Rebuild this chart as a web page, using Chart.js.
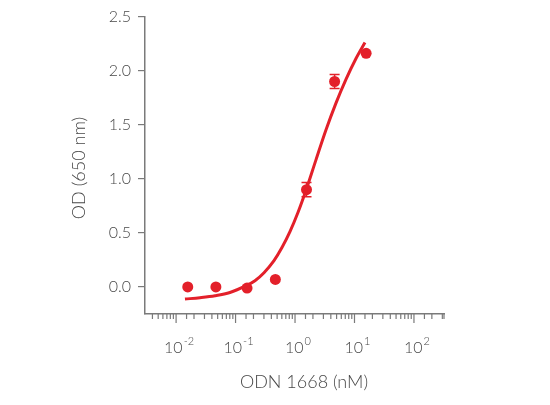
<!DOCTYPE html>
<html>
<head>
<meta charset="utf-8">
<script src="https://cdn.jsdelivr.net/npm/chart.js@4/dist/chart.umd.min.js"></script>
<style>
  html, body { margin: 0; padding: 0; background: #fff; }
  #wrap { width: 550px; height: 405px; }
</style>
</head>
<body>
<div id="wrap"><canvas id="myChart" width="550" height="405"></canvas></div>
<script>
// measured points (ODN 1668 in nM, OD at 650 nm)
const doseNM = [0.0157, 0.0467, 0.156, 0.467, 1.56, 4.63, 15.7];
const odMean = [0.0, 0.0, -0.01, 0.07, 0.90, 1.90, 2.16];
const odErr = [0, 0, 0, 0, 0.065, 0.065, 0];

// fitted curve
const fitX = [0.0141, 0.0252, 0.0451, 0.0805, 0.150, 0.212, 0.301, 0.443, 0.603, 0.822, 1.12, 1.53, 2.25, 3.31, 4.88, 7.19, 10.6, 15.0];
const fitY = [-0.112, -0.099, -0.081, -0.051, 0.012, 0.058, 0.132, 0.243, 0.364, 0.511, 0.688, 0.894, 1.175, 1.451, 1.700, 1.920, 2.113, 2.261];

const yTicks = [0, 0.5, 1, 1.5, 2, 2.5];
const xDecades = [-2, -1, 0, 1, 2];

const red = '#e3202a';
const axisGrey = '#7a7a7a';
const textGrey = '#484848';
const fontFam = 'Lato, "Open Sans", sans-serif';

function supExp(n) {
  return n < 0 ? '-' + Math.abs(n) : String(n);
}

// error bars, log-axis tick marks, decade labels and axis titles
const extras = {
  id: 'extras',
  afterDatasetsDraw(chart) {
    const ctx = chart.ctx;
    const xs = chart.scales.x, ys = chart.scales.y;
    ctx.save();
    ctx.strokeStyle = red;
    ctx.lineWidth = 1.5;
    doseNM.forEach((d, i) => {
      if (!odErr[i]) return;
      const px = xs.getPixelForValue(d);
      const top = ys.getPixelForValue(odMean[i] + odErr[i]);
      const bot = ys.getPixelForValue(odMean[i] - odErr[i]);
      ctx.beginPath();
      ctx.moveTo(px, top); ctx.lineTo(px, bot);
      ctx.moveTo(px - 5, top); ctx.lineTo(px + 5, top);
      ctx.moveTo(px - 5, bot); ctx.lineTo(px + 5, bot);
      ctx.stroke();
    });
    ctx.restore();
  },
  afterDraw(chart) {
    const ctx = chart.ctx;
    const xs = chart.scales.x;
    const area = chart.chartArea;
    ctx.save();
    ctx.strokeStyle = axisGrey;
    ctx.lineWidth = 1.2;
    ctx.beginPath();
    xs.ticks.forEach(t => {
      const px = xs.getPixelForValue(t.value);
      if (px < area.left + 1 || px > area.right + 0.5) return;
      const lg = Math.log10(t.value);
      const major = Math.abs(lg - Math.round(lg)) < 1e-6;
      ctx.moveTo(px, area.bottom);
      ctx.lineTo(px, area.bottom + (major ? 9 : 5));
    });
    ctx.stroke();

    // decade labels 10^n
    ctx.fillStyle = textGrey;
    ctx.textBaseline = 'alphabetic';
    xDecades.forEach(e => {
      const px = xs.getPixelForValue(Math.pow(10, e));
      const base = '10', sup = supExp(e);
      ctx.font = '300 16px ' + fontFam;
      const wb = ctx.measureText(base).width;
      ctx.font = '300 11px ' + fontFam;
      const ws = ctx.measureText(sup).width;
      const x0 = px + 3 - (wb + ws + 1) / 2;
      ctx.font = '300 16px ' + fontFam;
      ctx.textAlign = 'left';
      ctx.fillText(base, x0, area.bottom + 39);
      ctx.font = '300 11px ' + fontFam;
      ctx.fillText(sup, x0 + wb + 1, area.bottom + 31);
    });

    // axis titles
    ctx.font = '300 18px ' + fontFam;
    ctx.textAlign = 'center';
    ctx.textBaseline = 'middle';
    ctx.fillText('ODN 1668 (nM)', 304, 382);
    ctx.translate(79, 168);
    ctx.rotate(-Math.PI / 2);
    ctx.fillText('OD (650 nm)', 0, 0);
    ctx.restore();
  }
};

const ctx = document.getElementById('myChart').getContext('2d');
const chart = new Chart(ctx, {
  data: {
    datasets: [
      {
        type: 'line',
        data: fitX.map((x, i) => ({ x: x, y: fitY[i] })),
        borderColor: red,
        borderWidth: 3,
        pointRadius: 0,
        cubicInterpolationMode: 'monotone',
        fill: false
      },
      {
        type: 'scatter',
        data: doseNM.map((x, i) => ({ x: x, y: odMean[i] })),
        backgroundColor: red,
        borderColor: red,
        pointRadius: 5.5,
        pointBorderWidth: 0
      }
    ]
  },
  options: {
    responsive: false,
    animation: false,
    layout: { padding: { top: 15, right: 106, left: 0, bottom: 0 } },
    plugins: {
      legend: { display: false },
      tooltip: { enabled: false }
    },
    scales: {
      x: {
        type: 'logarithmic',
        min: 0.003,
        max: 320,
        grid: { display: false },
        border: { display: true, color: axisGrey, width: 1.5 },
        ticks: { display: false, autoSkip: false },
        afterFit: s => { s.height = 91; }
      },
      y: {
        min: -0.25,
        max: 2.5,
        afterBuildTicks: s => { s.ticks = yTicks.map(v => ({ value: v })); },
        grid: { drawOnChartArea: false, tickLength: 7, color: axisGrey, lineWidth: 1.2 },
        border: { display: true, color: axisGrey, width: 1.5 },
        ticks: {
          color: textGrey,
          padding: 7,
          font: { family: fontFam, size: 16, weight: '300' },
          callback: v => v.toFixed(1)
        },
        afterFit: s => { s.width = 145; }
      }
    }
  },
  plugins: [extras]
});
</script>
</body>
</html>
